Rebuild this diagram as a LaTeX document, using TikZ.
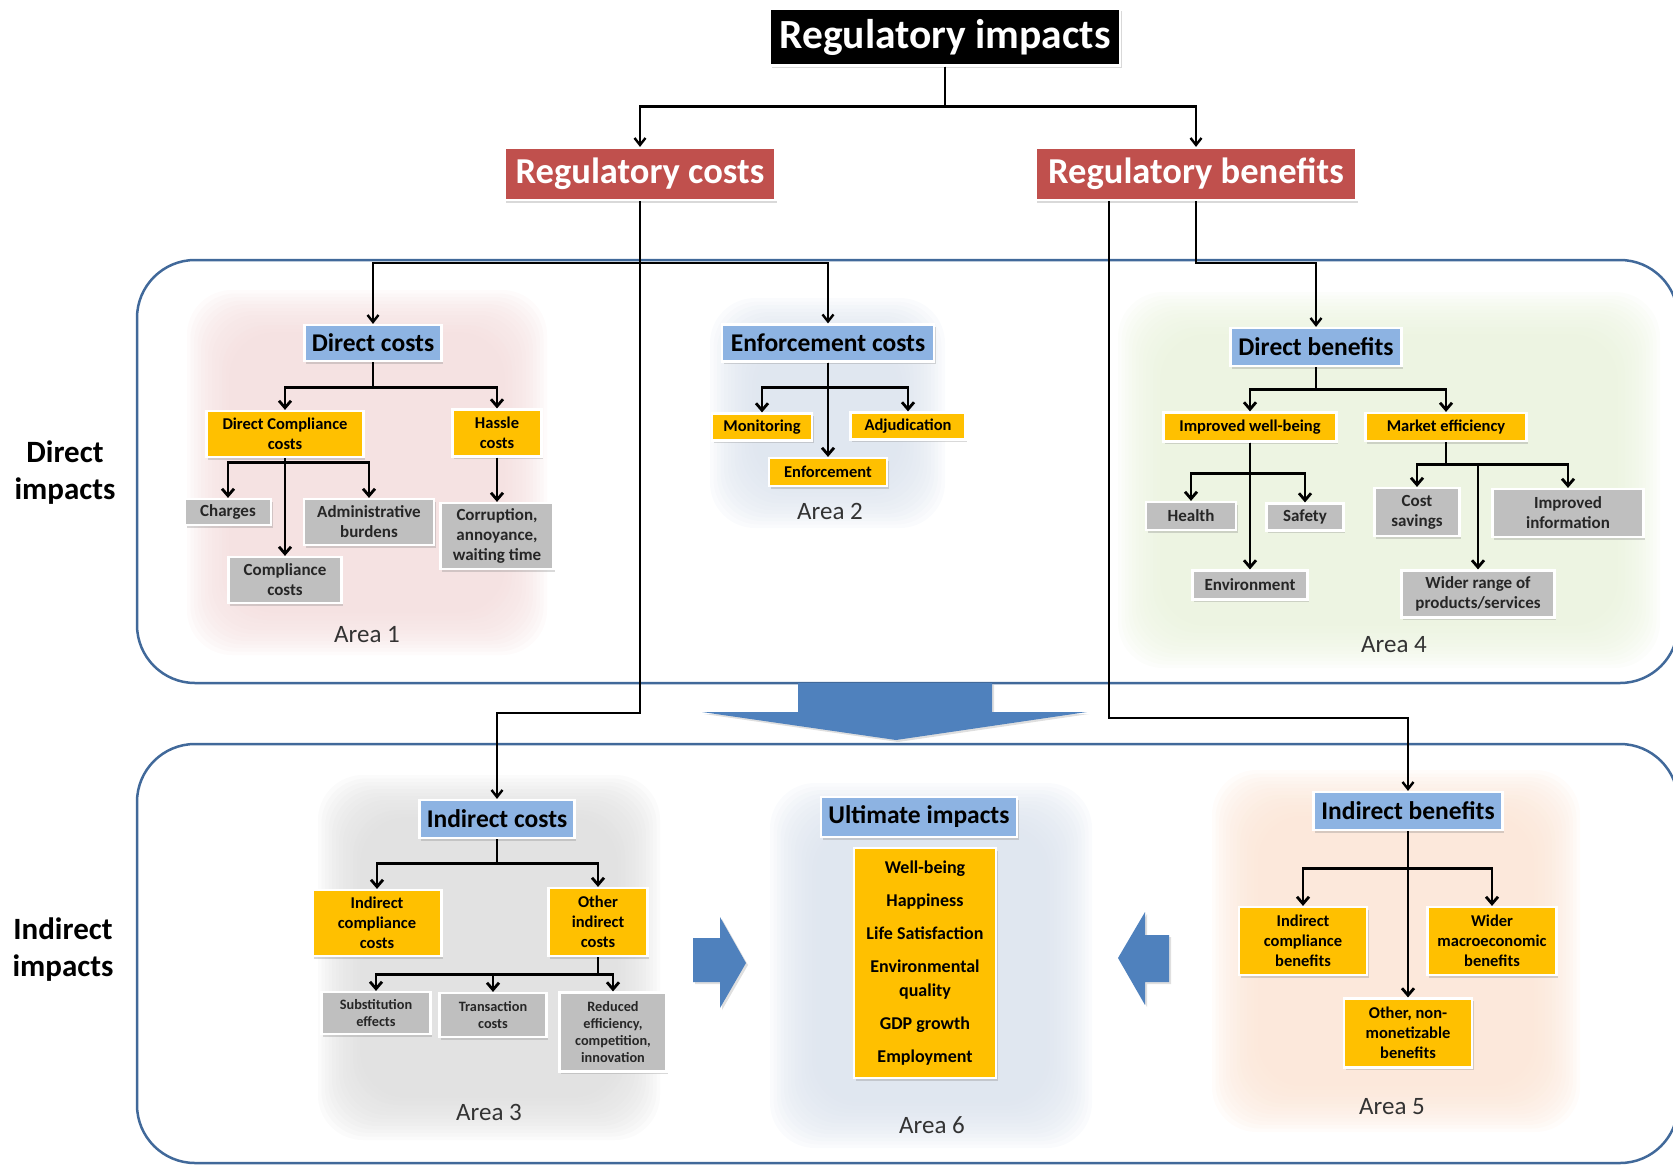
\documentclass[tikz,border=0pt]{standalone}
\usepackage{fontspec}
\setmainfont{Carlito}
\usetikzlibrary{arrows.meta,shadows}

\definecolor{headblue}{HTML}{8DB3E2}
\definecolor{amber}{HTML}{FFC000}
\definecolor{leafgrey}{HTML}{BFBFBF}
\definecolor{catred}{HTML}{C0504D}
\definecolor{frameblue}{HTML}{41699A}
\definecolor{arrowblue}{HTML}{4F81BD}
\definecolor{bgpink}{HTML}{F3DCDC}
\definecolor{bgblue}{HTML}{DAE2ED}
\definecolor{bggreen}{HTML}{E9F2DC}
\definecolor{bggrey}{HTML}{DCDCDC}
\definecolor{bgpeach}{HTML}{FBE4D4}

\newcommand{\fsz}[2]{\fontsize{#1}{#2}\selectfont}

\tikzset{
  box/.style={draw=white, line width=2.2, inner sep=0pt, align=center,
    drop shadow={shadow xshift=1.5pt, shadow yshift=-2.5pt, opacity=.3}},
  rootbox/.style={box, fill=black, text=white, font=\fsz{41.5}{44}\bfseries},
  catbox/.style={box, fill=catred, text=white, font=\fsz{36.5}{40}\bfseries},
  headbox/.style={box, fill=headblue, font=\fsz{25.5}{28}\bfseries},
  itembox/.style={box, fill=amber, font=\fsz{16.5}{20}\bfseries},
  leafbox/.style={box, fill=leafgrey, text=black!85, font=\fsz{17}{20}\bfseries},
  tinyleaf/.style={leafbox, font=\fsz{14.3}{17}\bfseries},
  arealabel/.style={font=\fsz{25}{28}, text=black!80},
  sidelabel/.style={align=center, font=\fsz{31}{37}\bfseries},
  toplink/.style={line width=2.4, -{Straight Barb[length=7pt,width=11pt]}},
  conn/.style={line width=2.8, -{Straight Barb[length=7pt,width=12pt]}},
  areaframe/.style={draw=frameblue, line width=2.5, rounded corners=58},
  bigarrow/.style={fill=arrowblue,
    drop shadow={shadow xshift=2pt, shadow yshift=-2pt, opacity=.25}},
}

\begin{document}
\begin{tikzpicture}[x=1pt, y=-1pt]
  \useasboundingbox (0,0) rectangle (1673,1165);

  % soft area backgrounds
  \foreach \col/\xa/\ya/\xb/\yb in {bgpink/187/290/547/655, bgblue/710/298/945/528,
      bggreen/1118/292/1660/668, bggrey/318/775/660/1140,
      bgblue/770/783/1092/1148, bgpeach/1212/770/1580/1132}{
    \foreach \k in {0,...,13}
      \fill[\col, opacity=.12, rounded corners=45]
        (\xa+\k*3.5,\ya+\k*3.5) rectangle (\xb-\k*3.5,\yb-\k*3.5);
  }

  \draw[areaframe] (137,260) rectangle (1678,683);
  \draw[areaframe] (137,744) rectangle (1678,1163);

  \fill[bigarrow] (798,683) -- (992,683) -- (992,712) -- (1087,712) -- (896,740)
    -- (702,712) -- (798,712) -- cycle;
  \fill[bigarrow] (693,938) -- (720,938) -- (720,917) -- (746,963) -- (720,1008)
    -- (720,982) -- (693,982) -- cycle;
  \fill[bigarrow] (1169,935) -- (1145,935) -- (1145,912) -- (1118,958) -- (1145,1005)
    -- (1145,982) -- (1169,982) -- cycle;

  \node[sidelabel] (dil) at (65,473) {Direct\\impacts};
  \node[sidelabel] (iil) at (63,950) {Indirect\\impacts};

  % top levels
  \node[rootbox, minimum width=350, minimum height=57] (ri) at (945,37) {Regulatory impacts};
  \node[catbox, minimum width=271, minimum height=52] (rc) at (640,174) {Regulatory costs};
  \node[catbox, minimum width=321, minimum height=52] (rb) at (1196,174) {Regulatory benefits};

  % area 1
  \node[headbox, minimum width=137, minimum height=36] (dc) at (373,343) {Direct costs};
  \node[itembox, minimum width=157, minimum height=46] (dcc) at (285,434) {Direct Compliance\\costs};
  \node[itembox, minimum width=89, minimum height=47] (hc) at (497,433) {Hassle\\costs};
  \node[leafbox, minimum width=86, minimum height=26] (ch) at (228,512) {Charges};
  \node[leafbox, minimum width=130, minimum height=46] (ab) at (369,522) {Administrative\\burdens};
  \node[leafbox, minimum width=113, minimum height=46] (cc) at (285,580) {Compliance\\costs};
  \node[leafbox, minimum width=113, minimum height=66] (cor) at (497,536) {Corruption,\\annoyance,\\waiting time};
  \node[arealabel] (a1) at (367,635) {Area 1};

  % area 2
  \node[headbox, minimum width=212, minimum height=37] (ec) at (828,343) {Enforcement costs};
  \node[itembox, minimum width=100, minimum height=27] (mon) at (762,427) {Monitoring};
  \node[itembox, minimum width=115, minimum height=27] (adj) at (908,426) {Adjudication};
  \node[itembox, minimum width=118, minimum height=28] (enf) at (828,472) {Enforcement};
  \node[arealabel] (a2) at (830,511) {Area 2};

  % area 4
  \node[headbox, minimum width=171, minimum height=38] (db) at (1316,347) {Direct benefits};
  \node[itembox, minimum width=173, minimum height=29] (iwb) at (1250,427) {Improved well-being};
  \node[itembox, minimum width=161, minimum height=28] (me) at (1446,427) {Market efficiency};
  \node[leafbox, minimum width=90, minimum height=28] (hea) at (1191,516) {Health};
  \node[leafbox, minimum width=77, minimum height=27] (saf) at (1305,517) {Safety};
  \node[leafbox, minimum width=115, minimum height=29] (env) at (1250,585) {Environment};
  \node[leafbox, minimum width=85, minimum height=48] (cs) at (1417,512) {Cost\\savings};
  \node[leafbox, minimum width=151, minimum height=48] (ii) at (1568,513) {Improved\\information};
  \node[leafbox, minimum width=153, minimum height=47] (wr) at (1478,594) {Wider range of\\products/services};
  \node[arealabel] (a4) at (1394,645) {Area 4};

  % area 3
  \node[headbox, minimum width=155, minimum height=38] (ic) at (497,819) {Indirect costs};
  \node[itembox, minimum width=129, minimum height=66] (icc) at (377,923) {Indirect\\compliance\\costs};
  \node[itembox, minimum width=99, minimum height=68] (oic) at (598,922) {Other\\indirect\\costs};
  \node[tinyleaf, minimum width=109, minimum height=42] (se) at (376,1013) {Substitution\\effects};
  \node[tinyleaf, minimum width=107, minimum height=44] (tc) at (493,1015) {Transaction\\costs};
  \node[tinyleaf, minimum width=107, minimum height=79] (re) at (613,1032) {Reduced\\efficiency,\\competition,\\innovation};
  \node[arealabel] (a3) at (489,1112) {Area 3};

  % area 6
  \node[headbox, minimum width=196, minimum height=40] (ui) at (919,817) {Ultimate impacts};
  \node[itembox, minimum width=142, minimum height=230, font=\fsz{18}{24}\bfseries] (ul) at (925,963)
    {Well-being\\[9pt] Happiness\\[9pt] Life Satisfaction\\[9pt] Environmental\\ quality\\[9pt] GDP growth\\[9pt] Employment};
  \node[arealabel] (a6) at (932,1125) {Area 6};

  % area 5
  \node[headbox, minimum width=189, minimum height=38] (ib) at (1408,811) {Indirect benefits};
  \node[itembox, minimum width=128, minimum height=68] (icb) at (1303,941) {Indirect\\compliance\\benefits};
  \node[itembox, minimum width=129, minimum height=68] (wmb) at (1492,941) {Wider\\macroeconomic\\benefits};
  \node[itembox, minimum width=128, minimum height=69] (onb) at (1408,1033) {Other, non-\\monetizable\\benefits};
  \node[arealabel] (a5) at (1392,1107) {Area 5};

  % connectors
  \draw[toplink] (ri.south) -- ++(0,40) -| (rc.north);
  \draw[toplink] (ri.south) -- ++(0,40) -| (rb.north);
  \draw[toplink] (rc.south) -- ++(0,62) -| (dc.north);
  \draw[toplink] (rc.south) -- ++(0,62) -| (ec.north);
  \draw[toplink] (rc.south) -- ++(0,512) -| (ic.north);
  \draw[toplink] (rb.south) -- ++(0,62) -| (db.north);
  \draw[toplink] ([xshift=-87pt]rb.south) -- ++(0,517) -| (ib.north);

  \draw[conn] (dc.south) -- ++(0,25) -| (dcc.north);
  \draw[conn] (dc.south) -- ++(0,25) -| (hc.north);
  \draw[conn] (dcc.south) -- ++(0,4) -| (ch.north);
  \draw[conn] (dcc.south) -- ++(0,4) -| (ab.north);
  \draw[conn] (dcc.south) -- (cc.north);
  \draw[conn] (hc.south) -- (cor.north);

  \draw[conn] (ec.south) -- ++(0,25) -| (mon.north);
  \draw[conn] (ec.south) -- ++(0,25) -| (adj.north);
  \draw[conn] (ec.south) -- (enf.north);

  \draw[conn] (db.south) -- ++(0,22) -| (iwb.north);
  \draw[conn] (db.south) -- ++(0,22) -| (me.north);
  \draw[conn] (iwb.south) -- ++(0,31) -| (hea.north);
  \draw[conn] (iwb.south) -- ++(0,31) -| (saf.north);
  \draw[conn] (iwb.south) -- (env.north);
  \draw[conn] (me.south) -- ++(0,22) -| (cs.north);
  \draw[conn] (me.south) -- ++(0,22) -| (ii.north);
  \draw[conn] (me.south) -- ++(0,22) -| (wr.north);

  \draw[conn] (ic.south) -- ++(0,24) -| (icc.north);
  \draw[conn] (ic.south) -- ++(0,24) -| (oic.north);
  \draw[conn] (oic.south) -- ++(0,17) -| (se.north);
  \draw[conn] (oic.south) -- ++(0,17) -| (tc.north);
  \draw[conn] (oic.south) -- ++(0,17) -| (re.north);

  \draw[conn] (ib.south) -- ++(0,37) -| (icb.north);
  \draw[conn] (ib.south) -- ++(0,37) -| (wmb.north);
  \draw[conn] (ib.south) -- (onb.north);
\end{tikzpicture}
\end{document}
